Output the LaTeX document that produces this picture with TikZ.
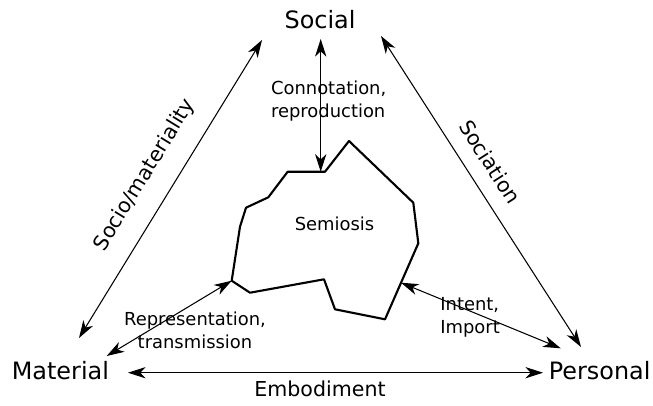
\documentclass[tikz,border=0pt]{standalone}
\usepackage{fontspec}
\setmainfont{DejaVu Sans}
\usepackage{tkz-euclide}
\usetikzlibrary{arrows.meta}

\tikzset{
  twoway/.style={line width=0.6pt, >={Stealth[length=10pt,width=6.4pt,inset=3pt]}, <->},
  semio/.style={line width=1.2pt},
  corner/.style={font=\fontsize{13.6}{16}\selectfont, inner sep=0pt},
  side/.style={font=\fontsize{11.7}{14}\selectfont, inner sep=0pt},
  lbl/.style={font=\fontsize{10.2}{12.9}\selectfont, inner sep=0pt}
}

\begin{document}
\begin{tikzpicture}
                    \useasboundingbox (0,0) rectangle (13.06,8.1);
                    \tkzDefPoints{5.754/4.666/A,6.50/4.666/B,6.98/5.28/C,8.266/4.046/D,8.366/3.234/E,7.70/1.714/F,6.70/1.914/G}
                    \tkzDefPoints{6.48/2.514/H,5.00/2.246/I,4.634/2.486/J,4.80/3.566/K,4.92/3.946/L,5.366/4.154/M}
                    \tkzDefPoints{6.414/4.666/N,8.02/2.446/T}
                    \tkzDefPoints{1.58/1.34/sm1,5.24/7.30/sm2,7.62/7.38/sp1,11.62/1.16/sp2,2.56/0.646/mp1,10.86/0.646/mp2}
                    \tkzDefPoints{6.414/7.32/so,2.134/0.98/ma,11.214/1.134/pe}
                    \tkzDrawPolygon[semio](A,B,C,D,E,F,G,H,I,J,K,L,M)
                    \tkzDrawSegments[twoway](sm1,sm2 sp1,sp2 mp1,mp2 so,N ma,J T,pe)
                    %corners
                    \node[corner,anchor=base] (soc) at (6.40,7.54) {Social};
                    \node[corner,anchor=base west] (mat) at (0.23,0.52) {Material};
                    \node[corner,anchor=base west] (per) at (10.97,0.52) {Personal};
                    %sides
                    \node[side,anchor=base] (emb) at (6.40,0.18) {Embodiment};
                    \node[side,rotate=58.5] (smat) at (2.90,4.60) {Socio/materiality};
                    \node[side,rotate=-57.3] (sct) at (9.80,4.865) {Sociation};
                    %inner labels
                    \node[lbl,anchor=base] (sem) at (6.69,3.50) {Semiosis};
                    \node[lbl,align=left,anchor=west] (con) at (5.414,6.08) {Connotation,\\reproduction};
                    \node[lbl,align=center] (rep) at (3.90,1.50) {Representation,\\transmission};
                    \node[lbl,align=left,anchor=west] (int) at (8.80,1.76) {Intent,\\Import};
                \end{tikzpicture}
\end{document}
